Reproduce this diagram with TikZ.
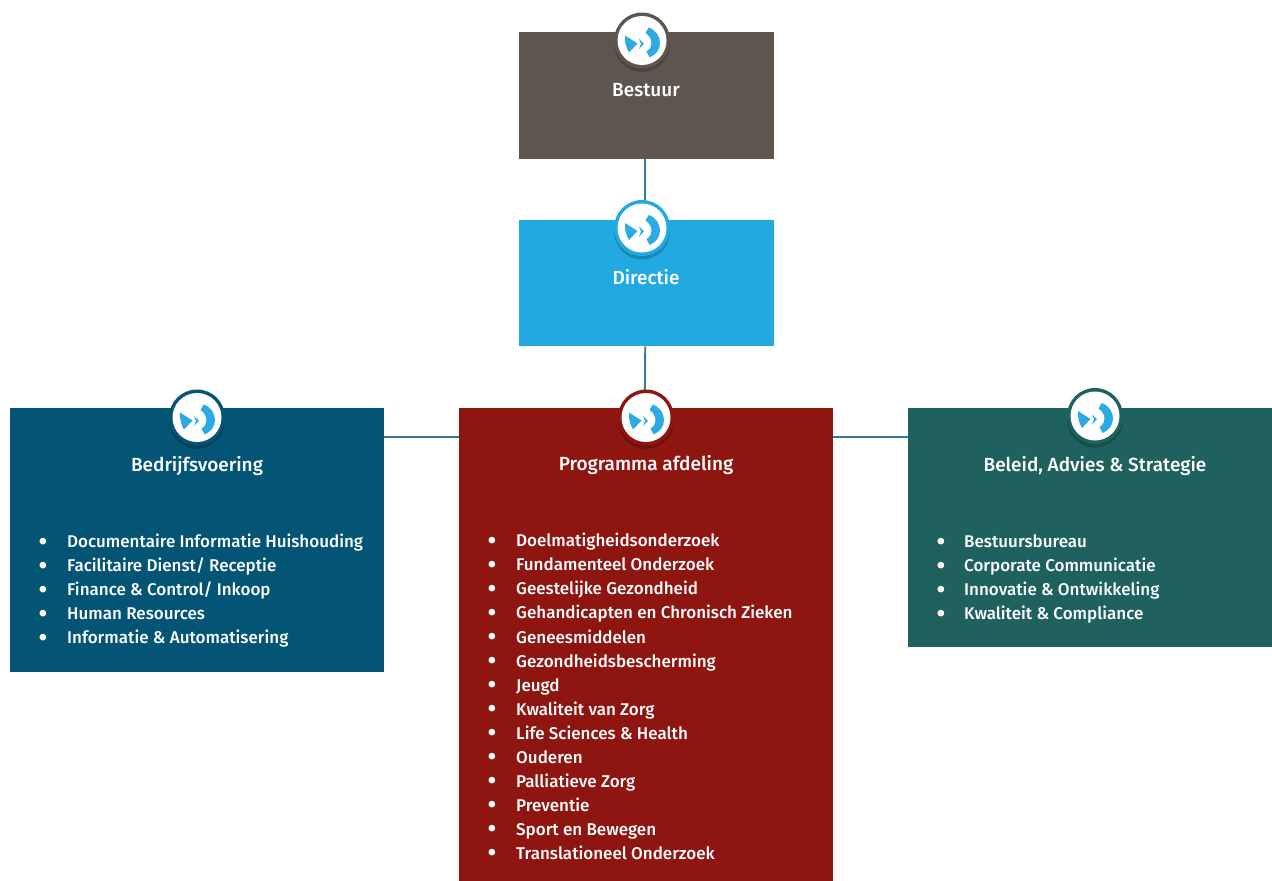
\documentclass[tikz,border=0pt]{standalone}
\usepackage{fontspec}
\setmainfont{Fira Sans Medium}
\definecolor{cbest}{HTML}{5F554F}
\definecolor{cdir}{HTML}{22A9E2}
\definecolor{cbed}{HTML}{045475}
\definecolor{cprog}{HTML}{8F1610}
\definecolor{cbel}{HTML}{1F615E}
\definecolor{cline}{HTML}{2F7A96}
\definecolor{clogo}{HTML}{2BABE2}
\newcommand{\logomark}[3]{% name, position, ring colour
  \begin{scope}[shift={#2}]
    \fill[black,opacity=.2] (0,3.5) circle[radius=28];
    \node[circle,fill=#3,minimum size=56pt,inner sep=0pt] (#1) at (0,0) {};
    \fill[white] (0,0) circle[radius=24.5];
    \fill[clogo] (-17,-5) -- (-4.5,3) -- (-13,12) .. controls (-16,7) and (-17.5,1) .. cycle;
    \fill[clogo] (-3,-1.5) -- (2,3.3) -- (-3,8.5) -- (-1,3.3) -- cycle;
    \fill[clogo] (6.7,-13) .. controls (14,-10.5) and (18,-4) .. (18,2.5) .. controls (18,9) and (14,14) .. (7.7,17) -- (4.5,11) .. controls (8,9) and (9.5,6) .. (9.5,3) .. controls (9.5,-1) and (7.5,-5) .. (3.5,-7.5) -- cycle;
  \end{scope}}
\tikzset{
  x=1pt,y=-1pt,
  orgbox/.style={draw=none,inner sep=0pt,anchor=north west},
  link/.style={draw=cline,line width=1.8pt},
  head/.style={text=white,font=\fontsize{19}{22}\selectfont,anchor=center,inner sep=0pt},
  items/.style={text=white,font=\fontsize{17}{24}\selectfont,align=left,anchor=north west,inner sep=0pt},
  itemsb/.style={text=white,font=\fontsize{17}{24.07}\selectfont,align=left,anchor=north west,inner sep=0pt},
  bulletdot/.style={text=white,font=\fontsize{26}{26}\selectfont,anchor=base,inner sep=0pt},
}
\begin{document}
\begin{tikzpicture}
\useasboundingbox (0,0) rectangle (1272,881);
\fill[white] (0,0) rectangle (1272,881);
\node[orgbox,fill=cbest,minimum width=255pt,minimum height=127pt] (bestuur) at (519,32) {};
\node[orgbox,fill=cdir,minimum width=255pt,minimum height=126pt] (directie) at (519,220) {};
\node[orgbox,fill=cbed,minimum width=374pt,minimum height=264pt] (bedrijf) at (10,408) {};
\node[orgbox,fill=cprog,minimum width=374pt,minimum height=473pt] (prog) at (459,408) {};
\node[orgbox,fill=cbel,minimum width=364pt,minimum height=239pt] (beleid) at (908,408) {};
\draw[link] ([xshift=-1.5pt]bestuur.south) -- ([xshift=-1.5pt]directie.north);
\draw[link] ([xshift=-1.5pt]directie.south) -- ([xshift=-1.5pt]prog.north);
\draw[link] ([yshift=-29pt]bedrijf.north east) -- ([yshift=-29pt]prog.north west);
\draw[link] ([yshift=-29pt]prog.north east) -- ([yshift=-29pt]beleid.north west);
\logomark{l1}{(642,40.5)}{cbest}
\logomark{l2}{(642,228)}{cdir}
\logomark{l3}{(197,417.5)}{cbed}
\logomark{l4}{(646,417.5)}{cprog}
\logomark{l5}{(1095,416)}{cbel}
\node[head] (t1) at (646,90) {Bestuur};
\node[head] (t2) at (646,277) {Directie};
\node[head] (t3) at (197,466) {Bedrijfsvoering};
\node[head] (t4) at (646,465) {Programma afdeling};
\node[head] (t5) at (1095,466) {Beleid, Advies \& Strategie};
\foreach \k in {0,...,4} \node[bulletdot] (b3-\k) at (43,550+24*\k) {•};
\node[items] (i3) at (67,534) {Documentaire Informatie Huishouding\\Facilitaire Dienst/ Receptie\\Finance \& Control/ Inkoop\\Human Resources\\Informatie \& Automatisering};
\foreach \k in {0,...,13} \node[bulletdot] (b4-\k) at (492,549+24.07*\k) {•};
\node[itemsb] (i4) at (516,533) {Doelmatigheidsonderzoek\\Fundamenteel Onderzoek\\Geestelijke Gezondheid\\Gehandicapten en Chronisch Zieken\\Geneesmiddelen\\Gezondheidsbescherming\\Jeugd\\Kwaliteit van Zorg\\Life Sciences \& Health\\Ouderen\\Palliatieve Zorg\\Preventie\\Sport en Bewegen\\Translationeel Onderzoek};
\foreach \k in {0,...,3} \node[bulletdot] (b5-\k) at (941,550+24*\k) {•};
\node[items] (i5) at (964,534) {Bestuursbureau\\Corporate Communicatie\\Innovatie \& Ontwikkeling\\Kwaliteit \& Compliance};
\end{tikzpicture}
\end{document}
